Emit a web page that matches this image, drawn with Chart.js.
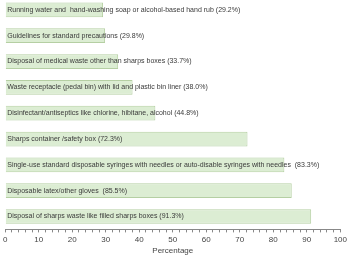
<!DOCTYPE html>
<html>
<head>
<meta charset="utf-8">
<script src="https://cdn.jsdelivr.net/npm/chart.js@4/dist/chart.umd.min.js"></script>
<style>
  html, body { margin: 0; padding: 0; background: #fff; overflow: hidden; }
  #wrap { position: relative; width: 350px; height: 259px; margin-top: -3px; }
</style>
</head>
<body>
<div id="wrap"><canvas id="myChart" width="350" height="259"></canvas></div>
<script>
// Datos del gráfico
const categorias = [
    'Running water and  hand-washing soap or alcohol-based hand rub',
    'Guidelines for standard precautions',
    'Disposal of medical waste other than sharps boxes',
    'Waste receptacle (pedal bin) with lid and plastic bin liner',
    'Disinfectant/antiseptics like chlorine, hibitane, alcohol',
    'Sharps container /safety box',
    'Single-use standard disposable syringes with needles or auto-disable syringes with needles ',
    'Disposable latex/other gloves ',
    'Disposal of sharps waste like filled sharps boxes'
];
const porcentajes = [29.2, 29.8, 33.7, 38.0, 44.8, 72.3, 83.3, 85.5, 91.3];
const ticksX = [0, 10, 20, 30, 40, 50, 60, 70, 80, 90, 100];

// Plugin para escribir la etiqueta dentro de cada barra
const etiquetasDentro = {
    id: 'etiquetasDentro',
    afterDatasetsDraw(chart) {
        const c = chart.ctx;
        const meta = chart.getDatasetMeta(0);
        c.save();
        c.font = '7px "Liberation Sans", Arial, sans-serif';
        c.fillStyle = '#3a3a3a';
        c.textBaseline = 'middle';
        c.textAlign = 'left';
        meta.data.forEach((bar, i) => {
            const txt = categorias[i] + ' (' + porcentajes[i].toFixed(1) + '%)';
            c.fillText(txt, chart.chartArea.left + 2, bar.y);
        });
        c.restore();
    }
};

const ctx = document.getElementById('myChart').getContext('2d');
const myChart = new Chart(ctx, {
    type: 'bar',
    data: {
        labels: categorias,
        datasets: [{
            data: porcentajes,
            backgroundColor: '#dcedd3',
            borderColor: '#b5cfa3',
            borderWidth: 1,
            categoryPercentage: 1.0,
            barPercentage: 0.57
        }]
    },
    options: {
        indexAxis: 'y',
        responsive: false,
        animation: false,
        layout: { padding: { left: 3, right: 9, top: 0, bottom: 0 } },
        plugins: {
            legend: { display: false },
            tooltip: { enabled: false }
        },
        scales: {
            y: { display: false },
            x: {
                min: 0,
                max: 100,
                grid: { drawOnChartArea: false, drawTicks: true, tickLength: 3, color: '#888' },
                border: { display: true, color: '#888' },
                ticks: {
                    stepSize: 2,
                    autoSkip: false,
                    maxRotation: 0,
                    padding: 3,
                    color: '#444',
                    font: { family: '"Liberation Sans", Arial, sans-serif', size: 8 },
                    callback: (v) => ticksX.includes(v) ? String(v) : ''
                },
                title: {
                    display: true,
                    text: 'Percentage',
                    color: '#444',
                    font: { family: '"Liberation Sans", Arial, sans-serif', size: 8, lineHeight: 1 },
                    padding: { top: -1, bottom: 1 }
                }
            }
        }
    },
    plugins: [etiquetasDentro]
});
</script>
</body>
</html>
